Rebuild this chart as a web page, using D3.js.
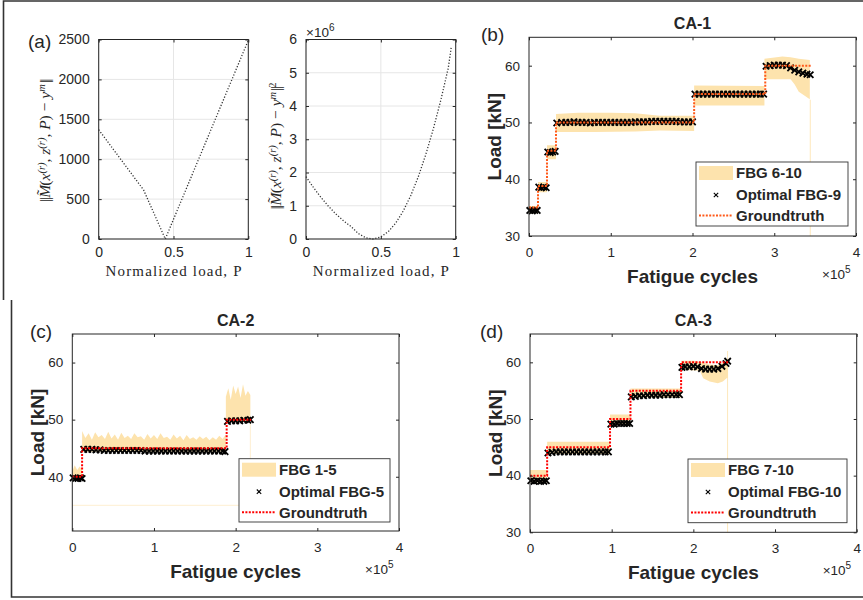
<!DOCTYPE html>
<html>
<head>
<meta charset="utf-8">
<script src="https://cdn.jsdelivr.net/npm/d3@7"></script>
<style>
  body { margin: 0; background: #fff; }
  text { font-family: "Liberation Sans", Arial, sans-serif; fill: #262626; }
</style>
</head>
<body>
<svg id="fig" width="863" height="600"></svg>
<script>
// ||================================||
// || DATA                           ||
// ||================================||

// (a) misfit vs normalized load
var normP   = [0, 0.05, 0.1, 0.15, 0.2, 0.25, 0.3, 0.35, 0.4, 0.445, 0.5, 0.55, 0.6, 0.65, 0.7, 0.75, 0.8, 0.85, 0.9, 0.95, 1.0];
var normVal = [1370, 1244, 1118, 992, 866, 740, 615, 403, 191, 0, 247, 471, 695, 920, 1144, 1368, 1593, 1817, 2041, 2266, 2490];
var sqP     = [0, 0.05, 0.1, 0.15, 0.2, 0.25, 0.3, 0.35, 0.4, 0.445, 0.5, 0.55, 0.6, 0.65, 0.7, 0.75, 0.8, 0.85, 0.9, 0.95, 0.97];
var sqVal   = [1.877, 1.548, 1.250, 0.984, 0.750, 0.548, 0.378, 0.162, 0.036, 0.0, 0.061, 0.222, 0.483, 0.846, 1.309, 1.871, 2.538, 3.302, 4.166, 5.135, 5.76]; // x1e6

// (b) CA-1, cycles in 1e5
var bEstX = [0.01, 0.04, 0.07, 0.10, 0.12, 0.15, 0.18, 0.21, 0.23, 0.26, 0.29, 0.32,
  0.34, 0.40, 0.45, 0.50, 0.55, 0.60, 0.65, 0.70, 0.75, 0.80, 0.85, 0.90, 0.95, 1.00, 1.05, 1.10, 1.15,
  1.20, 1.25, 1.30, 1.35, 1.40, 1.45, 1.50, 1.55, 1.60, 1.65, 1.70, 1.75, 1.80, 1.85, 1.90, 1.95, 2.00,
  2.03, 2.08, 2.13, 2.18, 2.23, 2.28, 2.33, 2.38, 2.43, 2.48, 2.53, 2.58, 2.63, 2.68, 2.73, 2.78, 2.83, 2.87,
  2.90, 2.95, 3.00, 3.05, 3.10, 3.15, 3.20, 3.25, 3.30, 3.35, 3.40, 3.44];
var bEstY = [34.5, 34.4, 34.5, 34.5, 38.6, 38.5, 38.6, 38.5, 44.8, 44.7, 44.8, 44.9,
  49.9, 50.0, 50.0, 50.0, 50.1, 50.0, 50.0, 50.0, 49.9, 50.0, 50.0, 50.0, 50.0, 50.0, 50.0, 50.0, 50.0,
  50.0, 50.0, 50.1, 50.1, 50.1, 50.1, 50.2, 50.2, 50.2, 50.2, 50.2, 50.2, 50.2, 50.1, 50.1, 50.1, 50.1,
  55.0, 55.0, 55.0, 55.0, 55.0, 55.0, 55.0, 55.0, 55.0, 55.0, 55.0, 55.0, 55.0, 55.0, 55.0, 55.0, 55.0, 55.0,
  59.9, 60.0, 60.1, 60.1, 60.1, 60.0, 59.6, 59.2, 58.9, 58.7, 58.5, 58.4];
var bGtX = [0, 0.11, 0.22, 0.33, 2.02, 2.89, 3.45];
var bGtY = [35.0, 38.8, 45.0, 50.0, 55.0, 60.0, 60.0];
var bUpX = [0, 0.11, 0.11, 0.22, 0.22, 0.33, 0.33, 0.6, 1.0, 1.3, 1.6, 2.02, 2.02, 2.88, 2.88, 3.1, 3.2, 3.3, 3.435, 3.435, 3.445];
var bUpY = [35.3, 35.3, 39.5, 39.5, 46.0, 46.0, 51.5, 51.7, 51.7, 51.6, 51.2, 51.2, 56.5, 56.4, 61.2, 61.6, 61.5, 61.2, 61.0, 54.0, 54.0];
var bLoX = [0, 0.11, 0.11, 0.22, 0.22, 0.33, 0.33, 0.8, 1.3, 1.6, 2.02, 2.02, 2.88, 2.88, 3.2, 3.25, 3.3, 3.435, 3.435, 3.445];
var bLoY = [34.0, 34.0, 37.7, 37.7, 43.5, 43.5, 48.3, 48.3, 48.4, 48.6, 48.5, 53.0, 53.0, 57.6, 57.6, 56.7, 55.4, 54.1, 30, 30];

// (c) CA-2
var cEstX = [0.01, 0.04, 0.07, 0.10, 0.12,
  0.14, 0.19, 0.24, 0.29, 0.34, 0.39, 0.44, 0.49, 0.54, 0.59, 0.64, 0.69, 0.74, 0.79, 0.84, 0.89, 0.94, 0.99,
  1.04, 1.09, 1.14, 1.19, 1.24, 1.29, 1.34, 1.39, 1.44, 1.49, 1.54, 1.59, 1.64, 1.69, 1.74, 1.79, 1.84, 1.87,
  1.90, 1.95, 2.00, 2.05, 2.10, 2.15, 2.18];
var cEstY = [39.8, 39.7, 39.7, 39.8, 39.7,
  44.8, 44.8, 44.8, 44.7, 44.7, 44.6, 44.6, 44.6, 44.6, 44.6, 44.6, 44.6, 44.6, 44.6, 44.6, 44.5, 44.5, 44.5,
  44.5, 44.5, 44.5, 44.5, 44.5, 44.5, 44.5, 44.5, 44.5, 44.5, 44.5, 44.5, 44.5, 44.5, 44.5, 44.5, 44.5, 44.4,
  49.7, 49.8, 49.8, 49.8, 49.9, 49.9, 50.0];
var cGtX = [0, 0.12, 1.89, 2.19];
var cGtY = [40.0, 45.0, 50.0, 50.0];
var cUpX = [0, 0.03, 0.06, 0.09, 0.12,
  0.12, 0.16, 0.20, 0.24, 0.28, 0.32, 0.36, 0.40, 0.44, 0.48, 0.52, 0.56, 0.60, 0.64, 0.68, 0.72, 0.76, 0.80,
  0.84, 0.88, 0.92, 0.96, 1.00, 1.04, 1.08, 1.12, 1.16, 1.20, 1.24, 1.28, 1.32, 1.36, 1.40, 1.44, 1.48, 1.52,
  1.56, 1.60, 1.64, 1.68, 1.72, 1.76, 1.80, 1.84, 1.88,
  1.88, 1.91, 1.94, 1.97, 2.00, 2.03, 2.06, 2.09, 2.12, 2.15, 2.18];
var cUpY = [41.0, 42.0, 41.2, 41.8, 41.3,
  48.0, 46.8, 47.6, 46.5, 47.8, 46.9, 47.3, 46.6, 47.9, 46.7, 47.4, 46.5, 47.7, 46.8, 47.2, 46.6, 47.6, 46.9,
  47.1, 46.5, 47.5, 46.7, 47.3, 46.6, 47.6, 46.8, 47.0, 46.5, 47.4, 46.7, 47.2, 46.4, 47.3, 46.6, 46.9, 46.5,
  47.1, 46.6, 47.0, 46.4, 46.9, 46.5, 47.2, 46.6, 47.4,
  54.0, 55.5, 53.5, 56.0, 54.5, 55.8, 53.8, 56.2, 54.2, 55.0, 54.3];
var cLoX = [0, 0.12, 0.12, 1.88, 1.88, 2.18];
var cLoY = [39.5, 39.5, 44.4, 44.4, 49.6, 49.6];
var cFaintX = [0, 2.18, 2.18];
var cFaintY = [35.0, 35.0, 49.5];

// (d) CA-3
var dEstX = [0.01, 0.05, 0.09, 0.13, 0.17, 0.20,
  0.22, 0.27, 0.32, 0.37, 0.42, 0.47, 0.52, 0.57, 0.62, 0.67, 0.72, 0.77, 0.82, 0.87, 0.92, 0.96,
  0.99, 1.03, 1.07, 1.11, 1.15, 1.19, 1.22,
  1.24, 1.29, 1.34, 1.39, 1.44, 1.49, 1.54, 1.59, 1.64, 1.69, 1.74, 1.79, 1.83,
  1.86, 1.90, 1.95, 2.00, 2.05, 2.10, 2.15, 2.20, 2.25, 2.30, 2.35, 2.40, 2.42];
var dEstY = [39.1, 39.0, 39.1, 39.0, 39.0, 39.1,
  44.0, 44.1, 44.2, 44.2, 44.2, 44.2, 44.2, 44.2, 44.2, 44.2, 44.2, 44.2, 44.2, 44.2, 44.2, 44.2,
  49.1, 49.1, 49.2, 49.2, 49.2, 49.2, 49.2,
  53.9, 54.0, 54.1, 54.1, 54.2, 54.2, 54.2, 54.2, 54.3, 54.3, 54.3, 54.3, 54.3,
  59.1, 59.2, 59.2, 59.3, 59.2, 58.9, 58.8, 58.8, 58.8, 58.9, 59.3, 59.8, 60.2];
var dGtX = [0, 0.21, 0.98, 1.23, 1.85, 2.43];
var dGtY = [40.0, 45.0, 50.0, 55.0, 60.0, 60.0];
var dUpX = [0, 0.21, 0.21, 0.98, 0.98, 1.23, 1.23, 1.85, 1.85, 2.0, 2.1, 2.2, 2.3, 2.38, 2.415, 2.415, 2.425];
var dUpY = [41.0, 41.0, 46.0, 46.0, 50.8, 50.8, 55.4, 55.4, 60.3, 60.3, 60.0, 59.6, 59.5, 60.0, 60.5, 62.0, 62.0];
var dLoX = [0, 0.21, 0.21, 0.98, 0.98, 1.23, 1.23, 1.85, 1.85, 2.08, 2.12, 2.2, 2.3, 2.36, 2.415, 2.415, 2.425];
var dLoY = [38.8, 38.8, 43.8, 43.8, 48.9, 48.9, 53.8, 53.8, 58.7, 58.5, 57.2, 56.6, 56.3, 56.6, 57.3, 30, 30];

var cycleTicks = [0, 1, 2, 3, 4];

// ||================================||
// || FIGURE                         ||
// ||================================||

var svg = d3.select("#fig");
var ink = "#262626",
    bandCol = "#fde3ad";

svg.append("rect").attr("width", 863).attr("height", 600).attr("fill", "#fff");
svg.append("path")
    .attr("d", "M3.5,300 V1 H863 M11.5,300 V597 H863")
    .attr("fill", "none").attr("stroke", "#333").attr("stroke-width", 1.6);

function styleAxis(sel, size) {
  sel.select(".domain").remove();
  sel.selectAll("line").attr("stroke", ink);
  sel.attr("font-family", null).attr("font-size", null);
  sel.selectAll("text").style("font-size", size + "px");
}

// box + inward ticks on all four sides
function drawAxes(x, y, xt, yt, fsize, grid, xpad) {
  var x0 = x.range()[0], x1 = x.range()[1], y0 = y.range()[1], y1 = y.range()[0];
  var g = svg.append("g");
  if (grid) {
    g.selectAll(".gx").data(xt).enter().append("line")
        .attr("x1", function(d) { return x(d); }).attr("x2", function(d) { return x(d); })
        .attr("y1", y0).attr("y2", y1).attr("stroke", "#e6e6e6");
    g.selectAll(".gy").data(yt).enter().append("line")
        .attr("y1", function(d) { return y(d); }).attr("y2", function(d) { return y(d); })
        .attr("x1", x0).attr("x2", x1).attr("stroke", "#e6e6e6");
  }
  var fmt = function(d) { return String(d); };
  g.append("g").attr("transform", "translate(0," + y1 + ")")
      .call(d3.axisBottom(x).tickValues(xt).tickSize(-3).tickPadding(xpad).tickFormat(fmt))
      .call(styleAxis, fsize);
  g.append("g").attr("transform", "translate(0," + y0 + ")")
      .call(d3.axisTop(x).tickValues(xt).tickSize(-3).tickFormat(""))
      .call(styleAxis, fsize);
  g.append("g").attr("transform", "translate(" + x0 + ",0)")
      .call(d3.axisLeft(y).tickValues(yt).tickSize(-3).tickPadding(9).tickFormat(fmt))
      .call(styleAxis, fsize);
  g.append("g").attr("transform", "translate(" + x1 + ",0)")
      .call(d3.axisRight(y).tickValues(yt).tickSize(-3).tickFormat(""))
      .call(styleAxis, fsize);
  g.append("rect").attr("x", x0).attr("y", y0).attr("width", x1 - x0).attr("height", y1 - y0)
      .attr("fill", "none").attr("stroke", ink).attr("stroke-width", 1);
}

function crossPath(cx, cy, s) {
  return "M" + (cx - s) + "," + (cy - s) + "L" + (cx + s) + "," + (cy + s) +
         "M" + (cx - s) + "," + (cy + s) + "L" + (cx + s) + "," + (cy - s);
}

function label(x, y, txt, size, weight, anchor, rot) {
  var t = svg.append("text")
      .attr("transform", "translate(" + x + "," + y + ")" + (rot ? " rotate(-90)" : ""))
      .attr("text-anchor", anchor || "start")
      .style("font-size", size + "px")
      .style("font-weight", weight || "normal")
      .text(txt);
  return t;
}

function times10(x, y, p) {
  var t = svg.append("text").attr("x", x).attr("y", y).style("font-size", "13.5px");
  t.append("tspan").text("\u00d710");
  t.append("tspan").attr("dy", -6).style("font-size", "10px").text(p);
}

// ||================================||
// || (a) MISFIT PANELS              ||
// ||================================||

function mathLabel(cx, cy, squared) {
  var t = svg.append("text")
      .attr("transform", "translate(" + cx + "," + cy + ") rotate(-90)")
      .attr("text-anchor", "middle")
      .style("font-family", "'Liberation Serif','DejaVu Serif',serif");
  // [text, italic, level (0 base, 1 sup, 2 accent), dx]
  var parts = [["||", 0, 0, 0], ["M", 1, 0, 1], ["\u02dc", 0, 2, -10], ["(", 0, 0, 4],
               ["x", 1, 0, 0], ["(r)", 1, 1, 0], [", ", 0, 0, 0],
               ["z", 1, 0, 0], ["(r)", 1, 1, 0], [", ", 0, 0, 0], ["P", 1, 0, 0], [") \u2212 ", 0, 0, 0],
               ["y", 1, 0, 0], ["m", 1, 1, 0], ["||", 0, 0, 1]];
  if (squared) parts.push(["2", 0, 1, 0]);
  var cur = 0;
  parts.forEach(function(p) {
    var target = p[2] === 1 ? -5 : (p[2] === 2 ? -3 : 0);
    t.append("tspan")
        .attr("dx", p[3])
        .attr("dy", target - cur)
        .attr("letter-spacing", p[0] === "||" ? -1.5 : null)
        .style("font-size", p[2] === 1 ? "10.5px" : "15.5px")
        .style("font-style", p[1] ? "italic" : "normal")
        .text(p[0]);
    cur = target;
  });
}

function normPanel(px0, px1, xs, ys, yMax, yt) {
  var x = d3.scaleLinear().domain([0, 1]).range([px0, px1]);
  var y = d3.scaleLinear().domain([0, yMax]).range([239, 39.5]);
  drawAxes(x, y, [0, 0.5, 1], yt, 14, true, 8);
  svg.append("path")
      .datum(xs.map(function(v, i) { return [x(v), y(ys[i])]; }))
      .attr("d", d3.line())
      .attr("fill", "none").attr("stroke", "#333").attr("stroke-width", 1.3)
      .attr("stroke-dasharray", "1.2,1.8");
  svg.append("text")
      .attr("x", (px0 + px1) / 2).attr("y", 276)
      .attr("text-anchor", "middle")
      .attr("textLength", 136).attr("lengthAdjust", "spacing")
      .style("font-family", "'Liberation Serif','DejaVu Serif',serif")
      .style("font-size", "15px")
      .text("Normalized load, P");
}

normPanel(98.7, 248.3, normP, normVal, 2500, [0, 500, 1000, 1500, 2000, 2500]);
normPanel(306, 455.7, sqP, sqVal, 6, [0, 1, 2, 3, 4, 5, 6]);
mathLabel(50, 141, false);
mathLabel(281, 146, true);
times10(306, 37, "6");
label(28, 48, "(a)", 19);

// ||================================||
// || (b)-(d) LOAD PANELS            ||
// ||================================||

function loadPanel(o) {
  var x = d3.scaleLinear().domain([0, 4]).range([o.x0, o.x1]);
  var y = d3.scaleLinear().domain(o.yDom).range([o.y1, o.y0]);
  var g = svg.append("g");

  // FBG band
  var up = o.upX.map(function(v, i) { return [x(v), y(o.upY[i])]; });
  var lo = o.loX.map(function(v, i) { return [x(v), y(o.loY[i])]; }).reverse();
  g.append("path").attr("d", d3.line()(up.concat(lo)) + "Z").attr("fill", bandCol);
  if (o.faintX) {
    g.append("path")
        .datum(o.faintX.map(function(v, i) { return [x(v), y(o.faintY[i])]; }))
        .attr("d", d3.line())
        .attr("fill", "none").attr("stroke", bandCol).attr("stroke-width", 0.8).attr("opacity", 0.7);
  }

  // optimal FBG estimates
  g.selectAll(".est").data(o.estX).enter().append("path")
      .attr("d", function(d, i) { return crossPath(x(d), y(o.estY[i]), 3.2); })
      .attr("stroke", "#000").attr("stroke-width", 1.8).attr("fill", "none");

  // groundtruth
  g.append("path")
      .datum(o.gtX.map(function(v, i) { return [x(v), y(o.gtY[i])]; }))
      .attr("d", d3.line().curve(d3.curveStepAfter))
      .attr("fill", "none").attr("stroke", o.gtCol).attr("stroke-width", 2)
      .attr("stroke-dasharray", "2,1.4");

  drawAxes(x, y, cycleTicks, o.yTicks, 13.5, false, 11);

  label((o.x0 + o.x1) / 2, o.y0 - 8, o.title, 16, "bold", "middle");
  label(o.tagX, o.y0 + 4, o.tag, 19);
  label((o.x0 + o.x1) / 2, o.y1 + 47, "Fatigue cycles", 19, "bold", "middle");
  label(o.x0 - 35, (o.y0 + o.y1) / 2, "Load [kN]", 19, "bold", "middle", true)
      .attr("dy", "0.35em");
  times10(o.x1 - 34, o.y1 + 43, "5");

  // legend
  var L = o.leg;
  var lg = svg.append("g");
  lg.append("rect").attr("x", L.x).attr("y", L.y).attr("width", L.w).attr("height", L.h)
      .attr("fill", "#fff").attr("stroke", "#333").attr("stroke-width", 0.9);
  lg.append("rect").attr("x", L.x + 3).attr("y", L.y + 4).attr("width", 34).attr("height", 14).attr("fill", bandCol);
  lg.append("path").attr("d", crossPath(L.x + 20, L.y + 33, 2.2))
      .attr("stroke", "#000").attr("stroke-width", 1.1);
  lg.append("line").attr("x1", L.x + 3).attr("x2", L.x + 37).attr("y1", L.y + 53.5).attr("y2", L.y + 53.5)
      .attr("stroke", o.gtCol).attr("stroke-width", 2).attr("stroke-dasharray", "2,1.4");
  [o.bandName, o.estName, "Groundtruth"].forEach(function(s, i) {
    lg.append("text").attr("x", L.x + 40).attr("y", L.y + [11, 33, 53.5][i]).attr("dy", "0.36em")
        .style("font-size", "15px").style("font-weight", "bold").text(s);
  });
}

loadPanel({
  x0: 529, x1: 856, y0: 37.3, y1: 236, yDom: [30, 65], yTicks: [30, 40, 50, 60],
  estX: bEstX, estY: bEstY, gtX: bGtX, gtY: bGtY, upX: bUpX, upY: bUpY, loX: bLoX, loY: bLoY,
  gtCol: "#ff5a1a", title: "CA-1", tag: "(b)", tagX: 481,
  bandName: "FBG 6-10", estName: "Optimal FBG-9",
  leg: { x: 696, y: 162, w: 152, h: 64 }
});

loadPanel({
  x0: 72.3, x1: 399, y0: 334, y1: 531, yDom: [30.5, 65], yTicks: [40, 50, 60],
  estX: cEstX, estY: cEstY, gtX: cGtX, gtY: cGtY, upX: cUpX, upY: cUpY, loX: cLoX, loY: cLoY,
  faintX: cFaintX, faintY: cFaintY,
  gtCol: "#ff0000", title: "CA-2", tag: "(c)", tagX: 30,
  bandName: "FBG 1-5", estName: "Optimal FBG-5",
  leg: { x: 239, y: 458.7, w: 151, h: 63.3 }
});

loadPanel({
  x0: 530, x1: 856.7, y0: 334, y1: 532.3, yDom: [30, 65], yTicks: [30, 40, 50, 60],
  estX: dEstX, estY: dEstY, gtX: dGtX, gtY: dGtY, upX: dUpX, upY: dUpY, loX: dLoX, loY: dLoY,
  gtCol: "#ff0000", title: "CA-3", tag: "(d)", tagX: 480,
  bandName: "FBG 7-10", estName: "Optimal FBG-10",
  leg: { x: 688, y: 459, w: 159, h: 63.7 }
});
</script>
</body>
</html>
